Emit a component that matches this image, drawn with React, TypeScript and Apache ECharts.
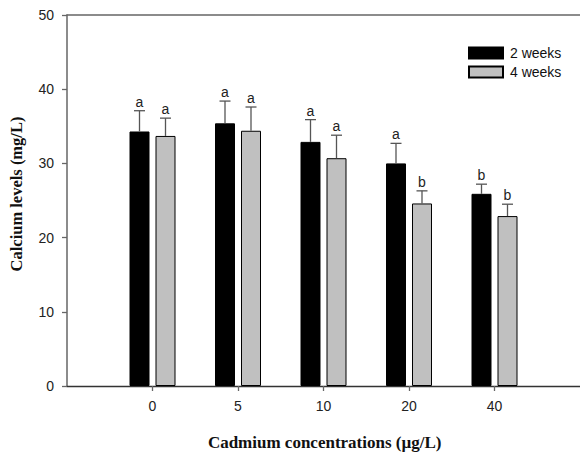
import React, { useEffect, useRef } from "react";
import * as echarts from "echarts";

const categories = ["0", "5", "10", "20", "40"];
const seriesNames = ["2 weeks", "4 weeks"];
const weeks2 = [34.3, 35.4, 32.9, 30.0, 25.9];
const weeks4 = [33.7, 34.4, 30.7, 24.6, 22.9];
const err2 = [2.8, 3.0, 3.0, 2.7, 1.3];
const err4 = [2.4, 3.2, 3.1, 1.7, 1.6];
const letters2 = ["a", "a", "a", "a", "b"];
const letters4 = ["a", "a", "a", "b", "b"];

const SANS = "'Liberation Sans', Arial, sans-serif";
const SERIF = "'Liberation Serif', 'Times New Roman', serif";

function errorSeries(values: number[], errs: number[], letters: string[], offset: number) {
  return {
    type: "custom",
    xAxisIndex: 0,
    yAxisIndex: 0,
    silent: true,
    z: 5,
    data: values.map((v, i) => [i, v, v + errs[i], letters[i]]),
    renderItem: (params: any, api: any) => {
      const x = api.value(0);
      const base = api.coord([x, api.value(1)]);
      const top = api.coord([x, api.value(2)]);
      const cx = base[0] + offset;
      const capHalf = 5.5;
      return {
        type: "group",
        children: [
          {
            type: "line",
            shape: { x1: cx, y1: base[1], x2: cx, y2: top[1] },
            style: { stroke: "#555", lineWidth: 1.3 },
          },
          {
            type: "line",
            shape: { x1: cx - capHalf, y1: top[1], x2: cx + capHalf, y2: top[1] },
            style: { stroke: "#555", lineWidth: 1.3 },
          },
          {
            type: "text",
            x: cx,
            y: top[1] - 2,
            style: {
              text: String(api.value(3)),
              fill: "#222",
              font: `14px ${SANS}`,
              align: "center",
              verticalAlign: "bottom",
            },
          },
        ],
      };
    },
  };
}

export default function App() {
  const ref = useRef<HTMLDivElement>(null);
  useEffect(() => {
    if (!ref.current) return;
    const chart = echarts.init(ref.current, null, { renderer: "svg" });
    const idx = categories.map((_, i) => i);
    chart.setOption({
      animation: false,
      backgroundColor: "#fff",
      grid: { left: 67, top: 15, right: 0, bottom: 67, containLabel: false },
      legend: {
        orient: "vertical",
        left: 468,
        top: 46,
        padding: 0,
        itemWidth: 34,
        itemHeight: 11,
        itemGap: 5,
        icon: "rect",
        data: seriesNames,
        textStyle: { fontFamily: SANS, fontSize: 14, lineHeight: 14, color: "#111", padding: [0, 0, 0, 2] },
        selectedMode: false,
      },
      xAxis: [
        {
          type: "value",
          min: -1,
          max: 5,
          interval: 1,
          splitLine: { show: false },
          axisLine: { show: true, onZero: false, lineStyle: { color: "#333", width: 1.3 } },
          axisTick: { show: true, customValues: idx, length: 5, lineStyle: { color: "#666", width: 1.3 } },
          axisLabel: {
            customValues: idx,
            formatter: (v: number) => categories[Math.round(v)] ?? "",
            fontFamily: SANS,
            fontSize: 14,
            color: "#222",
            margin: 13,
          },
        },
        {
          type: "value",
          position: "top",
          min: -1,
          max: 5,
          interval: 1,
          splitLine: { show: false },
          axisLine: { show: true, onZero: false, lineStyle: { color: "#666", width: 1.5 } },
          axisTick: { show: false },
          axisLabel: { show: false },
        },
      ],
      yAxis: {
        type: "value",
        min: 0,
        max: 50,
        interval: 10,
        splitLine: { show: false },
        axisLine: { show: true, onZero: false, lineStyle: { color: "#666", width: 1.5 } },
        axisTick: { show: true, length: 5, lineStyle: { color: "#666", width: 1.3 } },
        axisLabel: {
          fontFamily: SANS,
          fontSize: 14,
          color: "#222",
          margin: 13,
        },
      },
      graphic: [
        {
          type: "text",
          x: 324.7,
          y: 442,
          style: {
            text: "Cadmium concentrations (\u00b5g/L)",
            font: `bold 17px ${SERIF}`,
            fill: "#111",
            align: "center",
            verticalAlign: "middle",
          },
        },
        {
          type: "text",
          x: 16,
          y: 194,
          rotation: Math.PI / 2,
          style: {
            text: "Calcium levels (mg/L)",
            font: `bold 16.5px ${SERIF}`,
            fill: "#111",
            align: "center",
            verticalAlign: "middle",
          },
        },
      ],
      series: [
        {
          name: seriesNames[0],
          type: "bar",
          xAxisIndex: 0,
          data: weeks2.map((v, i) => [i, v]),
          barWidth: 20,
          barGap: "30%",
          itemStyle: { color: "#000", borderColor: "#000", borderWidth: 1 },
        },
        {
          name: seriesNames[1],
          type: "bar",
          xAxisIndex: 0,
          data: weeks4.map((v, i) => [i, v]),
          barWidth: 20,
          barGap: "30%",
          itemStyle: { color: "#c0c0c0", borderColor: "#000", borderWidth: 1 },
        },
        errorSeries(weeks2, err2, letters2, -13),
        errorSeries(weeks4, err4, letters4, 13),
      ],
    });
    return () => chart.dispose();
  }, []);
  return <div ref={ref} style={{ width: 580, height: 453, position: "absolute", left: 0, top: 0 }} />;
}
